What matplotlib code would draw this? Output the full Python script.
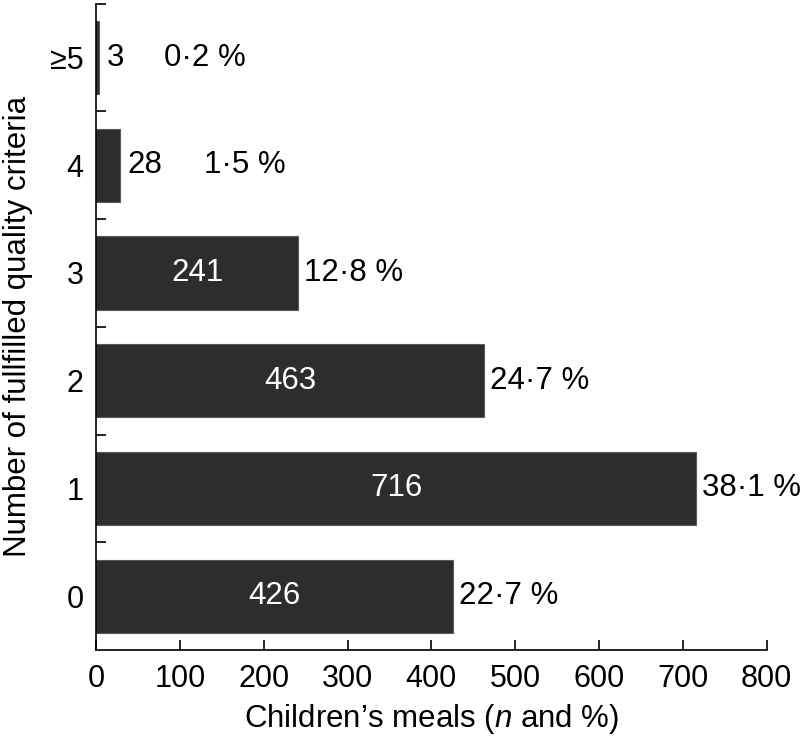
import matplotlib
matplotlib.use("Agg")
import matplotlib.pyplot as plt
from matplotlib.ticker import MultipleLocator, FixedLocator

plt.rcParams["font.family"] = ["Liberation Sans", "DejaVu Sans"]
plt.rcParams["mathtext.fontset"] = "custom"
plt.rcParams["mathtext.it"] = "Liberation Sans:italic"
plt.rcParams["mathtext.rm"] = "Liberation Sans"

# data
categories = ["0", "1", "2", "3", "4", "≥5"]
counts = [426, 716, 463, 241, 28, 3]
percents = ["22·7 %", "38·1 %", "24·7 %", "12·8 %", "1·5 %", "0·2 %"]

INSIDE_MIN = 100  # counts at/above this are written inside the bar
FS = 22.5

fig = plt.figure(figsize=(8.07, 7.42), dpi=100)
ax = fig.add_axes([0.119, 0.124, 0.831, 0.871])

y = list(range(len(categories)))
ax.barh(y, counts, height=0.68, color="#2d2d2d", edgecolor="#5a5a5a", linewidth=0.8)

for yi, c, p in zip(y, counts, percents):
    if c >= INSIDE_MIN:
        ax.text(c / 2, yi, str(c), color="white", fontsize=FS, ha="center", va="center")
        ax.annotate(p, (c, yi), xytext=(4, 0), textcoords="offset points",
                    fontsize=FS, ha="left", va="center")
    else:
        ax.annotate(str(c), (c, yi), xytext=(6, 0), textcoords="offset points",
                    fontsize=FS, ha="left", va="center")
        ax.annotate(p, (c, yi), xytext=(6 + 14 * len(str(c)) + 27, 0),
                    textcoords="offset points", fontsize=FS, ha="left", va="center")

ax.set_xlim(0, 800)
ax.set_ylim(-0.5, len(categories) - 0.5)
ax.xaxis.set_major_locator(MultipleLocator(100))
ax.set_yticks(y)
ax.set_yticklabels(categories)
ax.yaxis.set_minor_locator(FixedLocator([v + 0.5 for v in y]))

ax.spines["top"].set_visible(False)
ax.spines["right"].set_visible(False)
for s in ("left", "bottom"):
    ax.spines[s].set_linewidth(1.2)

ax.tick_params(axis="x", direction="in", length=7, width=1.2, labelsize=22, pad=10)
ax.tick_params(axis="y", which="major", length=0, labelsize=22, pad=9)
ax.tick_params(axis="y", which="minor", direction="in", length=7, width=1.2)

ax.set_xlabel("Children’s meals ($\\it{n}$ and %)", fontsize=FS, labelpad=6)
ax.set_ylabel("Number of fullfilled quality criteria", fontsize=FS, labelpad=12)

fig.savefig("out.png", dpi=100)
